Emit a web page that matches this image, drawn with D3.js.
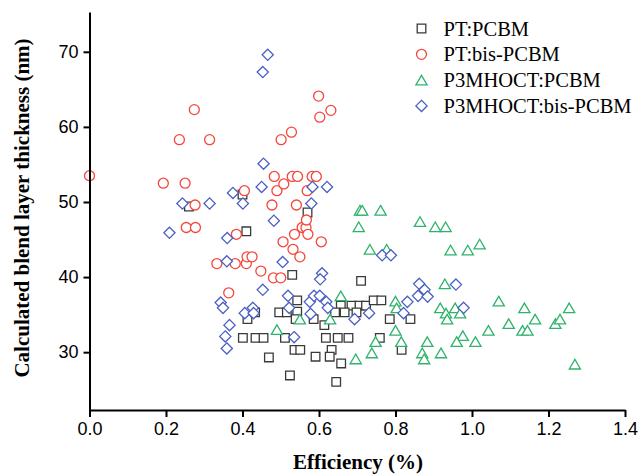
<!DOCTYPE html>
<html>
<head>
<meta charset="utf-8">
<script src="https://cdn.jsdelivr.net/npm/d3@7"></script>
<style>
  body { margin: 0; background: #fff; }
  .tick text { font-family: "Liberation Sans", Arial, sans-serif; font-size: 18px; fill: #000; }
  .axisTitle { font-family: "Liberation Serif", "Times New Roman", serif; font-weight: bold; font-size: 21px; }
  .legendText { font-family: "Liberation Serif", "Times New Roman", serif; font-size: 20.5px; }
</style>
</head>
<body>
<div class="chart"></div>
<script>
// Data: [efficiency (%), thickness (nm)]
var seriesNames = ["PT:PCBM", "PT:bis-PCBM", "P3MHOCT:PCBM", "P3MHOCT:bis-PCBM"];
var xTicks = [0.0, 0.2, 0.4, 0.6, 0.8, 1.0, 1.2, 1.4];
var yTicks = [30, 40, 50, 60, 70];

var ptPcbm = [
  [0.26, 49.4], [0.40, 51.0], [0.41, 46.1], [0.57, 48.6], [0.53, 40.3], [0.71, 39.5],
  [0.543, 36.9], [0.496, 35.3], [0.516, 35.3], [0.543, 35.4], [0.539, 34.4],
  [0.413, 34.4], [0.433, 35.3], [0.586, 34.4], [0.614, 33.6],
  [0.401, 31.9], [0.434, 31.9], [0.455, 31.9], [0.511, 31.9], [0.618, 31.9],
  [0.649, 31.9], [0.677, 31.9], [0.759, 31.9], [0.536, 30.3], [0.551, 30.3],
  [0.633, 30.3], [0.816, 30.3], [0.469, 29.3], [0.591, 29.4], [0.628, 29.4],
  [0.658, 28.5], [0.524, 26.9], [0.645, 26.05], [0.657, 36.2], [0.685, 36.2],
  [0.706, 36.2], [0.723, 36.2], [0.743, 36.9], [0.763, 36.9], [0.642, 35.3],
  [0.667, 35.3], [0.698, 35.3], [0.785, 34.4], [0.839, 34.4]
];

var ptBisPcbm = [
  [0.0, 53.5], [0.193, 52.5], [0.235, 58.3], [0.274, 62.3], [0.314, 58.3], [0.25, 52.5],
  [0.276, 49.6], [0.253, 46.6], [0.277, 46.6], [0.333, 41.8], [0.364, 37.9], [0.381, 41.8],
  [0.384, 45.7], [0.405, 51.5], [0.41, 41.8], [0.412, 42.7], [0.425, 42.7], [0.448, 40.8],
  [0.477, 49.6], [0.483, 53.4], [0.49, 51.5], [0.508, 52.4], [0.506, 44.7], [0.481, 39.9],
  [0.5, 39.9], [0.501, 58.3], [0.528, 59.3], [0.53, 53.4], [0.544, 53.4], [0.541, 49.6],
  [0.536, 45.7], [0.532, 43.7], [0.55, 42.7], [0.556, 46.6], [0.566, 46.6], [0.567, 47.6],
  [0.569, 51.5], [0.571, 45.7], [0.582, 53.4], [0.593, 53.4], [0.599, 64.1], [0.602, 61.3],
  [0.631, 62.2], [0.606, 44.7]
];

var p3Pcbm = [
  [0.707, 48.9], [0.713, 48.9], [0.761, 48.9], [0.704, 46.7], [0.733, 43.7], [0.777, 43.7],
  [0.864, 47.4], [0.904, 46.7], [0.931, 46.7], [0.944, 43.6], [0.989, 43.6], [1.02, 44.4],
  [0.657, 37.5], [0.55, 34.4], [0.629, 34.4], [0.49, 33.0], [0.8, 36.8], [0.803, 35.9],
  [0.8, 32.9], [0.815, 31.4], [0.748, 31.4], [0.738, 29.9], [0.696, 29.1], [0.87, 29.9],
  [0.875, 29.1], [0.883, 31.4], [0.919, 29.9], [0.929, 39.1], [0.917, 35.9], [0.932, 35.2],
  [0.935, 34.4], [0.956, 35.9], [0.969, 35.2], [0.976, 32.2], [0.96, 31.4], [1.009, 31.4],
  [1.043, 32.9], [1.07, 36.8], [1.096, 33.8], [1.137, 35.9], [1.132, 32.9], [1.145, 32.9],
  [1.165, 34.4], [1.218, 33.8], [1.23, 34.4], [1.254, 35.9], [1.269, 28.4]
];

var p3BisPcbm = [
  [0.466, 69.6], [0.453, 67.3], [0.455, 55.1], [0.45, 52.0], [0.583, 52.0], [0.621, 52.0],
  [0.375, 51.2], [0.243, 49.8], [0.314, 49.8], [0.401, 49.8], [0.58, 49.8], [0.209, 45.9],
  [0.36, 45.2], [0.482, 47.5], [0.359, 42.1], [0.505, 42.0], [0.608, 40.5], [0.603, 39.7],
  [0.453, 38.3], [0.343, 36.6], [0.349, 35.9], [0.366, 33.6], [0.355, 32.1], [0.359, 30.5],
  [0.406, 35.2], [0.427, 35.9], [0.429, 35.2], [0.519, 37.5], [0.522, 35.9], [0.535, 32.0],
  [0.576, 36.7], [0.587, 37.5], [0.578, 35.1], [0.602, 37.5], [0.619, 36.7], [0.623, 35.9],
  [0.693, 34.4], [0.731, 35.2], [0.765, 42.9], [0.788, 42.9], [0.831, 36.7], [0.821, 35.2],
  [0.859, 37.5], [0.862, 39.1], [0.876, 38.3], [0.884, 37.4], [0.958, 39.0], [0.978, 35.9]
];

var seriesData = [ptPcbm, ptBisPcbm, p3Pcbm, p3BisPcbm];

// Marker shapes (hollow, white filled like the original)
var squareShape = { draw: function(ctx, s) { ctx.rect(-4.3, -4.3, 8.6, 8.6); } };
var circleShape = { draw: function(ctx, s) { ctx.moveTo(5, 0); ctx.arc(0, 0, 5, 0, 2 * Math.PI); } };
var triangleShape = { draw: function(ctx, s) {
  ctx.moveTo(0, -4.8); ctx.lineTo(5.6, 4.8); ctx.lineTo(-5.6, 4.8); ctx.closePath();
} };
var diamondShape = { draw: function(ctx, s) {
  ctx.moveTo(0, -5.6); ctx.lineTo(5.6, 0); ctx.lineTo(0, 5.6); ctx.lineTo(-5.6, 0); ctx.closePath();
} };

var shapes = [squareShape, circleShape, triangleShape, diamondShape];
var colors = ["#3a3a3a", "#f4473b", "#2fb36c", "#4a60c2"];

var svgWidth = 640;
var svgHeight = 475;

var svg = d3.select(".chart")
  .append("svg")
  .attr("width", svgWidth)
  .attr("height", svgHeight);

var xScale = d3.scaleLinear().domain([0, 1.4]).range([89.5, 625]);
var yScale = d3.scaleLinear().domain([22.3, 75.3]).range([410, 12]);

// markers
seriesData.forEach(function(data, i) {
  svg.append("g")
    .selectAll("path")
    .data(data)
    .enter()
    .append("path")
    .attr("d", d3.symbol().type(shapes[i]))
    .attr("transform", function(d) {
      return "translate(" + xScale(d[0]) + "," + yScale(d[1]) + ")";
    })
    .attr("fill", "white")
    .attr("stroke", colors[i])
    .attr("stroke-width", 1.3);
});

// axes
var bottomAxis = d3.axisBottom(xScale)
  .tickValues(xTicks)
  .tickFormat(d3.format(".1f"))
  .tickSizeInner(7)
  .tickSizeOuter(0)
  .tickPadding(5);

var leftAxis = d3.axisLeft(yScale)
  .tickValues(yTicks)
  .tickSizeInner(6)
  .tickSizeOuter(0)
  .tickPadding(5);

var xAxisG = svg.append("g")
  .attr("transform", "translate(0,410)")
  .call(bottomAxis);

var yAxisG = svg.append("g")
  .attr("transform", "translate(89.5,0)")
  .call(leftAxis);

[xAxisG, yAxisG].forEach(function(g) {
  g.select(".domain").attr("stroke", "#000").attr("stroke-width", 2);
  g.selectAll(".tick line").attr("stroke", "#000").attr("stroke-width", 2);
  g.attr("font-family", null).attr("font-size", null);
});

// axis titles
svg.append("text")
  .attr("class", "axisTitle")
  .attr("x", 358)
  .attr("y", 469)
  .attr("text-anchor", "middle")
  .text("Efficiency (%)");

svg.append("text")
  .attr("class", "axisTitle")
  .attr("transform", "translate(29,208) rotate(-90)")
  .attr("text-anchor", "middle")
  .text("Calculated blend layer thickness (nm)");

// legend
var legend = svg.append("g").attr("transform", "translate(421.5,28.5)");

seriesNames.forEach(function(name, i) {
  var row = legend.append("g").attr("transform", "translate(0," + (i * 25.8) + ")");
  row.append("path")
    .attr("d", d3.symbol().type(shapes[i]))
    .attr("fill", "white")
    .attr("stroke", colors[i])
    .attr("stroke-width", 1.3);
  row.append("text")
    .attr("class", "legendText")
    .attr("x", 22)
    .attr("y", 7)
    .text(name);
});
</script>
</body>
</html>
